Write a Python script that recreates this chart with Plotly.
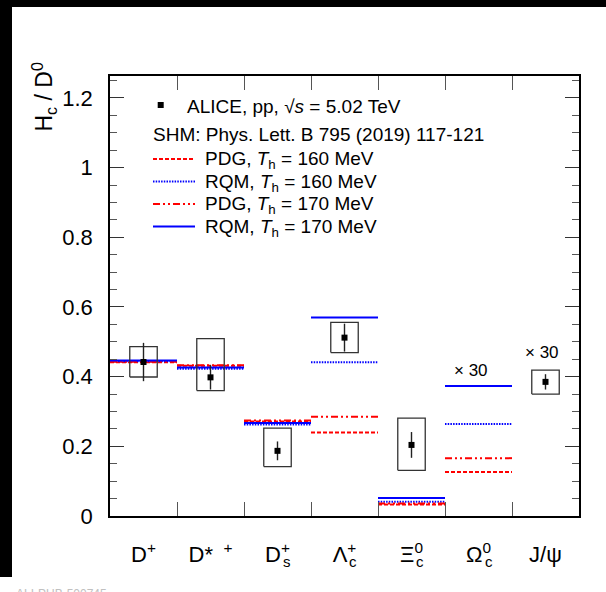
import plotly.graph_objects as go

# Charm-hadron to D0 yield ratios, pp at sqrt(s) = 5.02 TeV, with SHM predictions
categories = ["D<sup>+</sup>", "D* <sup> +</sup>", "D<sup>+</sup>",
              "Λ<sup>+</sup>", "Ξ<sup>0</sup>",
              "Ω<sup>0</sup>", "J/ψ"]
subscripts = ["", "", "s", "c", "c", "c", ""]
centers = [0.5, 1.5, 2.5, 3.5, 4.5, 5.5, 6.5]

# Measured ratios (index into categories); J/psi shown scaled by 30
data_idx = [0, 1, 2, 3, 4, 6]
data_val = [0.442, 0.398, 0.187, 0.512, 0.204, 0.385]
stat_err = [0.055, 0.035, 0.027, 0.040, 0.037, 0.022]
syst_up = [0.044, 0.111, 0.065, 0.044, 0.077, 0.034]
syst_dn = [0.043, 0.038, 0.045, 0.043, 0.073, 0.035]
box_half_width = 0.205

# SHM predictions per category (Omega_c scaled by 30); no J/psi prediction
model_idx = [0, 1, 2, 3, 4, 5]
pdg_160 = [0.441, 0.431, 0.271, 0.240, 0.033, 0.126]
rqm_160 = [0.444, 0.423, 0.263, 0.441, 0.041, 0.264]
pdg_170 = [0.443, 0.433, 0.274, 0.285, 0.036, 0.166]
rqm_170 = [0.446, 0.426, 0.267, 0.570, 0.052, 0.373]

models = [
    ("PDG, <i>T</i><sub>h</sub> = 160 MeV", pdg_160, "#ff0000", "4px,2px"),
    ("RQM, <i>T</i><sub>h</sub> = 160 MeV", rqm_160, "#0000ff", "1.5px,1.2px"),
    ("PDG, <i>T</i><sub>h</sub> = 170 MeV", pdg_170, "#ff0000", "7px,3px,2px,3px,2px,3px"),
    ("RQM, <i>T</i><sub>h</sub> = 170 MeV", rqm_170, "#0000ff", "solid"),
]

FONT = "Liberation Sans, Arial, Helvetica, sans-serif"
W, H = 606, 592
L, R, T, B = 110, 579, 76, 516
LABEL_SIZE = 22
LEGEND_SIZE = 19

# approximate advance widths (em) for placing subscripts under superscripts
base_em = {"D": 0.722, "Λ": 0.667, "Ξ": 0.649, "Ω": 0.768}
sup_em = {"+": 0.584, "0": 0.556}


def px_x(p):
    return (p - L) / (R - L)


def px_y(p):
    return (B - p) / (B - T)


fig = go.Figure()

# model predictions: one horizontal segment spanning each category
for name, vals, color, dash in models:
    xs, ys = [], []
    for i, v in zip(model_idx, vals):
        xs += [centers[i] - 0.5, centers[i] + 0.5, None]
        ys += [v, v, None]
    fig.add_trace(go.Scatter(x=xs, y=ys, mode="lines", name=name, showlegend=False,
                             line=dict(color=color, width=2, dash=dash)))

# systematic uncertainty boxes
bx, by = [], []
for i, v, su, sd in zip(data_idx, data_val, syst_up, syst_dn):
    c = centers[i]
    bx += [c - box_half_width, c + box_half_width, c + box_half_width,
           c - box_half_width, c - box_half_width, None]
    by += [v - sd, v - sd, v + su, v + su, v - sd, None]
fig.add_trace(go.Scatter(x=bx, y=by, mode="lines", showlegend=False,
                         line=dict(color="#333333", width=1.3)))

# data points with statistical uncertainties
fig.add_trace(go.Scatter(
    x=[centers[i] for i in data_idx], y=data_val, mode="markers", showlegend=False,
    marker=dict(symbol="square", size=6, color="black"),
    error_y=dict(type="data", array=stat_err, visible=True, width=0,
                 thickness=1.4, color="#222222"),
))

# subscripts stacked under the superscripts of the category labels
units_per_px = 7 / (R - L)
for c, label, sub in zip(centers, categories, subscripts):
    if not sub:
        continue
    base = label[0]
    sup = label[label.index("<sup>") + 5]
    bw = base_em[base] * LABEL_SIZE
    sw = sup_em[sup] * LABEL_SIZE * 0.7
    sup_left = -(bw + sw) / 2 + bw
    fig.add_annotation(x=c + sup_left * units_per_px, y=px_y(561), xref="x", yref="paper",
                       xanchor="left", yanchor="middle", showarrow=False, text=sub,
                       font=dict(size=round(LABEL_SIZE * 0.7), color="black", family=FONT))

# scale-factor labels
fig.add_annotation(x=5.39, y=0.419, xref="x", yref="y", text="× 30", showarrow=False,
                   font=dict(size=17, color="black", family=FONT))
fig.add_annotation(x=6.45, y=0.468, xref="x", yref="y", text="× 30", showarrow=False,
                   font=dict(size=17, color="black", family=FONT))

# legend
fig.add_shape(type="rect", xref="paper", yref="paper",
              x0=px_x(157.7), x1=px_x(163.7), y0=px_y(108), y1=px_y(102),
              fillcolor="black", line=dict(width=0))
fig.add_annotation(xref="paper", yref="paper", x=px_x(185), y=px_y(106),
                   xanchor="left", yanchor="middle", showarrow=False,
                   text="ALICE, pp, √<i>s</i> = 5.02 TeV",
                   font=dict(size=LEGEND_SIZE, color="black", family=FONT))
fig.add_annotation(xref="paper", yref="paper", x=px_x(150.5), y=px_y(134),
                   xanchor="left", yanchor="middle", showarrow=False,
                   text="SHM: Phys. Lett. B 795 (2019) 117-121",
                   font=dict(size=LEGEND_SIZE, color="black", family=FONT))
legend_rows = [159, 181.5, 204, 226.5]
for (name, vals, color, dash), yy in zip(models, legend_rows):
    fig.add_shape(type="line", xref="paper", yref="paper",
                  x0=px_x(153), x1=px_x(195), y0=px_y(yy), y1=px_y(yy),
                  line=dict(color=color, width=2, dash=dash))
    fig.add_annotation(xref="paper", yref="paper", x=px_x(203), y=px_y(yy + 1),
                       xanchor="left", yanchor="middle", showarrow=False, text=name,
                       font=dict(size=LEGEND_SIZE, color="black", family=FONT))

# y-axis title, placed at the upper end of the axis
fig.add_annotation(xref="paper", yref="paper", x=px_x(44), y=px_y(61),
                   xanchor="center", yanchor="top", textangle=-90, showarrow=False,
                   text="H<sub>c</sub> / D<sup>0</sup>",
                   font=dict(size=23, color="black", family=FONT))

# publication id, partly outside the canvas
fig.add_annotation(xref="paper", yref="paper", x=px_x(14), y=px_y(585),
                   xanchor="left", yanchor="top", showarrow=False,
                   text="ALI-PUB-500745",
                   font=dict(size=12, color="#c0c0c0", family=FONT))

# dark frame bands along the top and left edges
fig.add_shape(type="rect", xref="paper", yref="paper", layer="above",
              x0=px_x(0), x1=px_x(W), y0=px_y(7), y1=px_y(-2),
              fillcolor="black", line=dict(width=0))
fig.add_shape(type="rect", xref="paper", yref="paper", layer="above",
              x0=px_x(-2), x1=px_x(12), y0=px_y(577), y1=px_y(0),
              fillcolor="black", line=dict(width=0))

fig.update_layout(
    width=W, height=H,
    margin=dict(l=L, r=W - R, t=T, b=H - B, pad=0),
    paper_bgcolor="white", plot_bgcolor="white",
    font=dict(family=FONT, color="black"),
    showlegend=False,
)
fig.update_xaxes(
    range=[0, 7], tickvals=centers, ticktext=categories, ticks="", ticklen=0,
    tickfont=dict(size=LABEL_SIZE, family=FONT, color="black"), ticklabelstandoff=18,
    minor=dict(tickvals=[1, 2, 3, 4, 5, 6], ticks="inside", ticklen=14,
               tickwidth=1, tickcolor="#555555"),
    showgrid=False, zeroline=False, showline=True, linecolor="black", linewidth=1.5,
    mirror="ticks",
)
fig.update_yaxes(
    range=[0, 1.263], tickvals=[0, 0.2, 0.4, 0.6, 0.8, 1.0, 1.2],
    ticktext=["0", "0.2", "0.4", "0.6", "0.8", "1", "1.2"],
    ticks="inside", ticklen=14, tickwidth=1, tickcolor="#333333",
    tickfont=dict(size=22, family=FONT, color="black"), ticklabelstandoff=11,
    minor=dict(dtick=0.05, ticks="inside", ticklen=7, tickwidth=1, tickcolor="#555555"),
    showgrid=False, zeroline=False, showline=True, linecolor="black", linewidth=1.5,
    mirror="ticks",
)

fig.write_html("out.html")
